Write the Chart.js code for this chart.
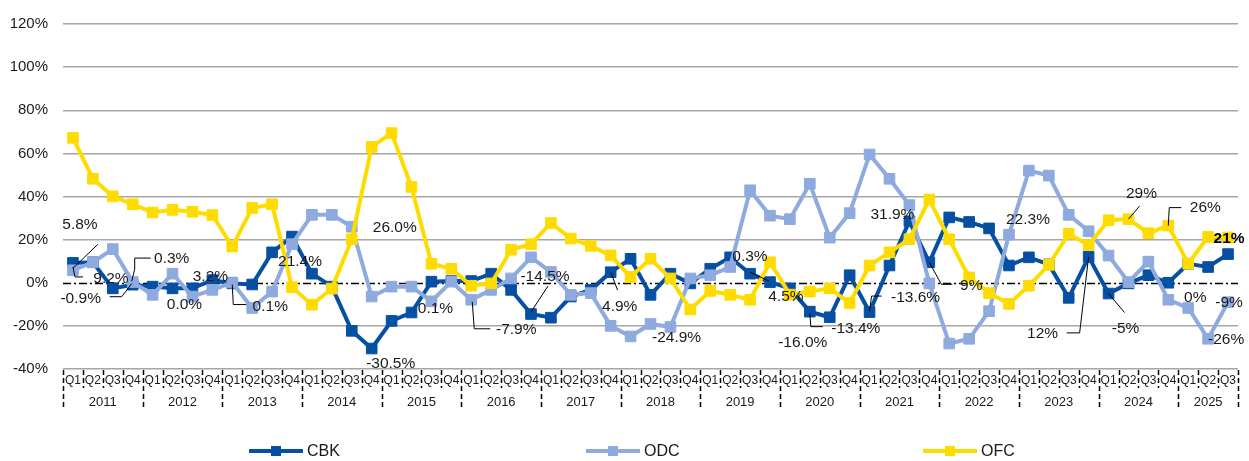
<!DOCTYPE html>
<html><head><meta charset="utf-8">
<script src="https://cdn.jsdelivr.net/npm/chart.js@4.4.0/dist/chart.umd.min.js"></script>
<style>html,body{margin:0;padding:0;background:#fff;}canvas{display:block}</style>
</head><body>
<canvas id="c" width="1249" height="461"></canvas>
<script>
const categories = [
 '2011 Q1','2011 Q2','2011 Q3','2011 Q4','2012 Q1','2012 Q2','2012 Q3','2012 Q4',
 '2013 Q1','2013 Q2','2013 Q3','2013 Q4','2014 Q1','2014 Q2','2014 Q3','2014 Q4',
 '2015 Q1','2015 Q2','2015 Q3','2015 Q4','2016 Q1','2016 Q2','2016 Q3','2016 Q4',
 '2017 Q1','2017 Q2','2017 Q3','2017 Q4','2018 Q1','2018 Q2','2018 Q3','2018 Q4',
 '2019 Q1','2019 Q2','2019 Q3','2019 Q4','2020 Q1','2020 Q2','2020 Q3','2020 Q4',
 '2021 Q1','2021 Q2','2021 Q3','2021 Q4','2022 Q1','2022 Q2','2022 Q3','2022 Q4',
 '2023 Q1','2023 Q2','2023 Q3','2023 Q4','2024 Q1','2024 Q2','2024 Q3','2024 Q4',
 '2025 Q1','2025 Q2','2025 Q3'
];
const seriesNames = ['CBK','ODC','OFC'];
const cbk = [9.2, 9.5, -2.6, -0.9, -1.8, -2.6, -2.6, 1.2, -0.3, -0.8,
 14.1, 21.4, 4.2, -1.8, -22.3, -30.5, -17.7, -13.8, 0.5, 0.8,
 0.8, 4.2, -3.3, -14.5, -16.2, -6.4, -3.3, 4.9, 11.1, -5.6,
 4.2, -0.3, 6.5, 11.8, 4.2, 0.3, -2.6, -13.4, -16.0, 3.5,
 -13.6, 8.0, 28.5, 9.5, 30.3, 28.2, 25.2, 8.0, 11.8, 8.5,
 -7.0, 12.0, -5.0, -0.3, 3.5, 0.0, 8.8, 7.3, 13.3];
const odc = [5.8, 9.5, 15.6, 0.3, -5.6, 4.2, -6.4, -3.3, 0.1, -11.7,
 -4.1, 17.9, 31.5, 31.5, 26.0, -6.4, -1.8, -1.8, -8.6, 0.5,
 -7.9, -3.3, 2.0, 11.8, 5.0, -5.6, -4.8, -20.0, -24.9, -19.1,
 -20.5, 2.0, 3.5, 7.3, 42.9, 31.1, 29.5, 45.9, 20.9, 32.3,
 59.5, 48.2, 36.0, -0.3, -28.2, -26.0, -13.2, 22.3, 52.0, 49.7,
 31.5, 23.9, 12.6, 0.3, 9.8, -7.9, -11.7, -26.0, -9.0];
const ofc = [67.2, 48.2, 40.1, 36.4, 32.6, 33.8, 32.9, 31.4, 16.8, 34.7,
 36.4, -2.1, -10.2, -2.7, 20.2, 63.0, 69.4, 44.4, 8.8, 6.5,
 -1.4, -0.3, 15.3, 17.9, 27.7, 20.5, 17.1, 12.7, 2.7, 11.1,
 2.0, -12.4, -3.8, -5.6, -7.9, 9.5, -5.5, -4.1, -2.6, -9.4,
 8.0, 14.1, 20.2, 38.6, 20.2, 2.5, -4.8, -9.8, -1.4, 8.3,
 22.7, 17.5, 29.0, 29.5, 23.0, 26.5, 8.8, 21.3, 21.0];
const yMin = -40, yMax = 120, yStep = 20;

// data labels shown on the chart (text + anchor point); offsets are placement only
const labelNotes = [
 {s:'ODC',i:0,text:'5.8%',dx:7,dy:-46,leader:[[0,-2],[25,-26]]},
 {s:'CBK',i:0,text:'9.2%',dx:38,dy:16,leader:[[0,4],[2,14],[10,14]]},
 {s:'CBK',i:3,text:'-0.9%',dx:-52,dy:14,leader:[[-1,-1],[-11,12],[-23,12]]},
 {s:'ODC',i:3,text:'0.3%',dx:39,dy:-23,leader:[[-1,-1],[2,-13],[2,-24],[18,-24]]},
 {s:'CBK',i:7,text:'3.2%',dx:-2,dy:-3},
 {s:'CBK',i:6,text:'0.0%',dx:-8,dy:16},
 {s:'ODC',i:8,text:'0.1%',dx:38,dy:24,leader:[[0,2],[1,22],[14,22]]},
 {s:'CBK',i:11,text:'21.4%',dx:8,dy:25},
 {s:'CBK',i:15,text:'-30.5%',dx:19,dy:15},
 {s:'ODC',i:14,text:'26.0%',dx:43,dy:1},
 {s:'CBK',i:18,text:'0.1%',dx:4,dy:27},
 {s:'ODC',i:20,text:'-7.9%',dx:45,dy:30,leader:[[1,2],[3,29],[19,29]]},
 {s:'CBK',i:23,text:'-14.5%',dx:14,dy:-37,leader:[[0,-2],[17,-28]]},
 {s:'CBK',i:27,text:'4.9%',dx:9,dy:35,leader:[[0,0],[7,18]]},
 {s:'ODC',i:28,text:'-24.9%',dx:46,dy:1},
 {s:'CBK',i:35,text:'0.3%',dx:-20,dy:-25,leader:[[-20,-10],[-1,-1]]},
 {s:'CBK',i:36,text:'4.5%',dx:-4,dy:8},
 {s:'CBK',i:38,text:'-16.0%',dx:-27,dy:25},
 {s:'CBK',i:37,text:'-13.4%',dx:46,dy:17,leader:[[0,2],[1,15],[13,15]]},
 {s:'CBK',i:40,text:'-13.6%',dx:46,dy:-14,leader:[[0,-1],[2,-16],[12,-16]]},
 {s:'CBK',i:42,text:'31.9%',dx:-17,dy:-7},
 {s:'CBK',i:43,text:'9%',dx:42,dy:23,leader:[[0,0],[12,22],[23,22]]},
 {s:'ODC',i:47,text:'22.3%',dx:19,dy:-15},
 {s:'CBK',i:51,text:'12%',dx:-46,dy:77,leader:[[0,0],[-9,76],[-22,76]]},
 {s:'CBK',i:52,text:'-5%',dx:17,dy:35,leader:[[0,0],[16,19]]},
 {s:'OFC',i:53,text:'29%',dx:13,dy:-25,leader:[[0,0],[11,-13]]},
 {s:'OFC',i:55,text:'26%',dx:37,dy:-18,leader:[[0,0],[1,-18],[13,-18]]},
 {s:'CBK',i:55,text:'0%',dx:27,dy:15},
 {s:'OFC',i:58,text:'21%',dx:1,dy:1,bold:true},
 {s:'ODC',i:58,text:'-9%',dx:1,dy:1},
 {s:'ODC',i:57,text:'-26%',dx:18,dy:1}
];

const COLORS = {CBK:'#0650a4', ODC:'#8eaadf', OFC:'#ffdc00'};
const FONT = '"Liberation Sans", Arial, sans-serif';
const TXT = '#1a1a1a';

function mkDs(name, data, order){
  const c = COLORS[name];
  return {label:name, data, borderColor:c, backgroundColor:c, borderWidth:4,
    pointStyle:'rect', pointRadius:7.5, pointHoverRadius:7.5, pointBackgroundColor:c,
    pointBorderColor:c, pointBorderWidth:1, tension:0, order};
}

const zeroLine = {
  id:'zeroLine',
  beforeDatasetsDraw(chart){
    const {ctx, chartArea:a, scales:{y}} = chart;
    const y0 = Math.round(y.getPixelForValue(0))+0.5;
    ctx.save(); ctx.strokeStyle='#000'; ctx.lineWidth=1.5; ctx.setLineDash([8,3,2,3]);
    ctx.beginPath(); ctx.moveTo(a.left,y0); ctx.lineTo(a.right,y0); ctx.stroke(); ctx.restore();
  }
};

const xAxisDraw = {
  id:'xAxisDraw',
  afterDraw(chart){
    const {ctx, chartArea:a, scales:{x}} = chart;
    const n = categories.length;
    const w = x.getPixelForValue(1) - x.getPixelForValue(0);
    ctx.save();
    ctx.strokeStyle='#000'; ctx.lineWidth=1.5; ctx.setLineDash([5,3]);
    for(let k=0;k<=n;k++){
      const px = Math.round(k<n ? x.getPixelForValue(k)-w/2 : x.getPixelForValue(n-1)+w/2)+0.5;
      const isYear = k===n || categories[k].split(' ')[1]==='Q1';
      ctx.beginPath(); ctx.moveTo(px, a.bottom+1); ctx.lineTo(px, a.bottom + (isYear?41:19)); ctx.stroke();
    }
    ctx.setLineDash([]);
    ctx.fillStyle=TXT; ctx.textAlign='center'; ctx.textBaseline='middle';
    ctx.font = '12px '+FONT;
    const groups = {};
    categories.forEach((c,k)=>{
      const [yr,q] = c.split(' ');
      const px = x.getPixelForValue(k);
      ctx.fillText(q, px, a.bottom+12);
      (groups[yr] = groups[yr]||[]).push(px);
    });
    ctx.font = '13px '+FONT;
    Object.keys(groups).forEach(yr=>{
      const g = groups[yr];
      ctx.fillText(yr, (g[0]+g[g.length-1])/2, a.bottom+33);
    });
    // legend
    ctx.font = '16px '+FONT; ctx.textAlign='left';
    const cx0 = 632, spacing = 337, ly = 451;
    seriesNames.forEach((nm,k)=>{
      const cx = cx0 + (k-1)*spacing;
      const x1 = cx-46, x2 = cx+8;
      ctx.strokeStyle = COLORS[nm]; ctx.lineWidth=4;
      ctx.beginPath(); ctx.moveTo(x1,ly); ctx.lineTo(x2,ly); ctx.stroke();
      ctx.fillStyle = COLORS[nm]; ctx.fillRect((x1+x2)/2-5, ly-5, 10, 10);
      ctx.fillStyle = TXT; ctx.fillText(nm, x2+4, ly+1);
    });
    ctx.restore();
  }
};

const dataLabelDraw = {
  id:'dataLabelDraw',
  afterDatasetsDraw(chart){
    const ctx = chart.ctx;
    ctx.save();
    ctx.textAlign='center'; ctx.textBaseline='middle';
    for(const n of labelNotes){
      const el = chart.getDatasetMeta(seriesNames.indexOf(n.s)).data[n.i];
      const px = el.x, py = el.y;
      if(n.leader){
        ctx.strokeStyle='#000'; ctx.lineWidth=1; ctx.beginPath();
        n.leader.forEach(([dx,dy],j)=> j ? ctx.lineTo(px+dx,py+dy) : ctx.moveTo(px+dx,py+dy));
        ctx.stroke();
      }
      ctx.font = (n.bold?'bold ':'') + '15.5px ' + FONT;
      ctx.fillStyle = n.bold ? '#000' : TXT;
      ctx.fillText(n.text, px+n.dx, py+n.dy);
    }
    ctx.restore();
  }
};

new Chart(document.getElementById('c'), {
  type:'line',
  data:{ labels:categories, datasets:[ mkDs('CBK',cbk,3), mkDs('ODC',odc,2), mkDs('OFC',ofc,1) ] },
  options:{
    responsive:false, devicePixelRatio:1, animation:false,
    layout:{padding:{top:17,right:11,left:0,bottom:0}},
    plugins:{legend:{display:false}, tooltip:{enabled:false}},
    scales:{
      x:{type:'category', offset:true, grid:{display:false}, border:{display:false},
         ticks:{display:false}, afterFit(s){ s.height = 92; }},
      y:{min:yMin, max:yMax, border:{display:false},
         grid:{drawTicks:false, lineWidth:1.5, color:(c)=> c.tick && c.tick.value===0 ? 'rgba(0,0,0,0)' : '#a6a6a6'},
         ticks:{stepSize:yStep, padding:15, color:TXT, font:{family:FONT, size:15}, callback:v=>v+'%'},
         afterFit(s){ s.width = 63; }}
    }
  },
  plugins:[zeroLine, dataLabelDraw, xAxisDraw]
});
</script>
</body></html>
